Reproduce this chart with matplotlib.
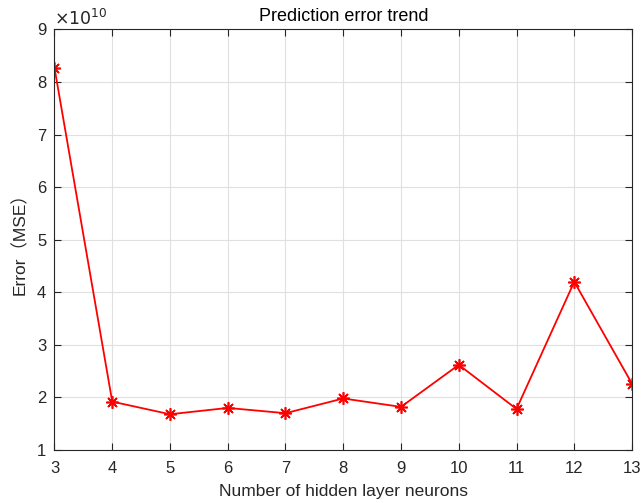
import matplotlib
matplotlib.use("Agg")
import matplotlib.pyplot as plt
import numpy as np

# number of hidden layer neurons vs. prediction error (MSE, x1e10)
neurons = [3, 4, 5, 6, 7, 8, 9, 10, 11, 12, 13]
mse = np.array([8.27, 1.92, 1.68, 1.80, 1.70, 1.98, 1.82, 2.62, 1.78, 4.20, 2.26]) * 1e10

x_ticks = list(range(3, 14))
y_ticks = list(range(1, 10))

plt.rcParams["font.family"] = ["Liberation Sans", "Noto Sans CJK SC", "DejaVu Sans"]
axis_color = "#262626"

fig = plt.figure(figsize=(6.44, 5.03), dpi=100)
ax = fig.add_axes([0.0846, 0.1054, 0.8968, 0.836])

# MATLAB-style '*' marker: 8-armed asterisk
ax.plot(neurons, mse / 1e10, color="red", linewidth=1.3, marker=(8, 2, 0),
        markersize=9, markeredgewidth=1.2)

ax.set_xlim(3, 13)
ax.set_ylim(1, 9)
ax.set_xticks(x_ticks)
ax.set_yticks(y_ticks)
ax.grid(True, color="#e0e0e0", linewidth=0.8)
ax.set_axisbelow(True)

ax.tick_params(direction="in", length=5, width=0.8, colors=axis_color,
               labelsize=12, top=True, right=True)
ax.tick_params(axis="x", pad=8)
ax.tick_params(axis="y", pad=6)
for sp in ax.spines.values():
    sp.set_color(axis_color)
    sp.set_linewidth(0.8)

ax.text(0.0, 1.003, r"$\times10^{10}$", transform=ax.transAxes,
        ha="left", va="bottom", fontsize=12.5, color=axis_color,
        math_fontfamily="dejavusans")

ax.set_title("Prediction error trend", fontsize=13, color="black", pad=6)
ax.set_xlabel("Number of hidden layer neurons", fontsize=12.5, color=axis_color, labelpad=6)
ax.set_ylabel("Error（MSE）", fontsize=12.5, color=axis_color, labelpad=6)

fig.savefig("out.png", dpi=100)
